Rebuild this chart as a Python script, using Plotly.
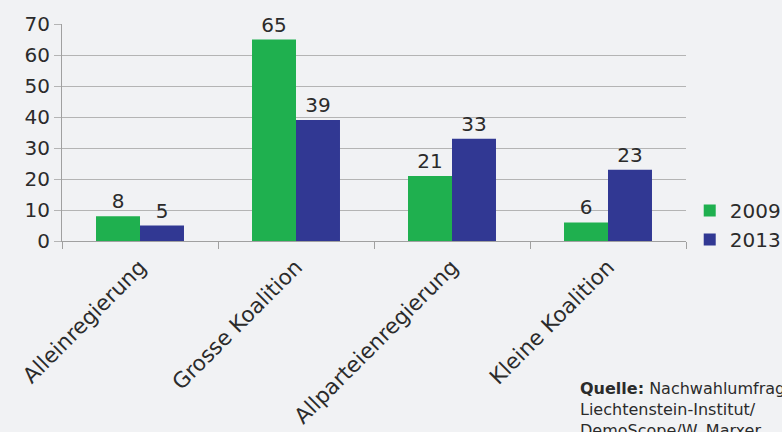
import plotly.graph_objects as go

categories = ["Alleinregierung", "Grosse Koalition", "Allparteienregierung", "Kleine Koalition"]
values_2009 = [8, 65, 21, 6]
values_2013 = [5, 39, 33, 23]
series_names = ["2009", "2013"]
y_ticks = [0, 10, 20, 30, 40, 50, 60, 70]

bg = "#f1f2f4"
font_fam = "DejaVu Sans"
txt_col = "#2b2b2b"

fig = go.Figure()
fig.add_trace(go.Bar(
    x=categories, y=values_2009, name=series_names[0],
    marker=dict(color="#1fb04f", line=dict(width=0)),
    text=[str(v) for v in values_2009], textposition="outside",
    textfont=dict(size=20, color=txt_col, family=font_fam), cliponaxis=False,
))
fig.add_trace(go.Bar(
    x=categories, y=values_2013, name=series_names[1],
    marker=dict(color="#313893", line=dict(width=0)),
    text=[str(v) for v in values_2013], textposition="outside",
    textfont=dict(size=20, color=txt_col, family=font_fam), cliponaxis=False,
))

fig.update_layout(
    width=782, height=432,
    margin=dict(l=62, r=96, t=24, b=191, autoexpand=False),
    paper_bgcolor=bg, plot_bgcolor=bg,
    barmode="group", bargap=0.436, bargroupgap=0,
    font=dict(family=font_fam, size=20, color=txt_col),
    showlegend=True,
    legend=dict(xref="container", yref="container", x=0.882, y=0.558,
                xanchor="left", yanchor="top",
                font=dict(size=20, color=txt_col, family=font_fam),
                bgcolor="rgba(0,0,0,0)", itemwidth=30, tracegroupgap=0),
)
fig.update_yaxes(
    range=[0, 70], tickvals=y_ticks, ticktext=[str(v) for v in y_ticks],
    showgrid=True, gridcolor="#b4b4b4", gridwidth=1,
    showline=True, linecolor="#a0a0a0", linewidth=1,
    ticks="outside", ticklen=7, tickcolor="#b4b4b4",
    tickfont=dict(size=20, color=txt_col), zeroline=False,
)
fig.update_xaxes(
    showline=True, linecolor="#a0a0a0", linewidth=1,
    ticks="outside", ticklen=7, tickcolor="#a0a0a0", tickson="boundaries",
    tickangle=-45, tickfont=dict(size=21.5, color=txt_col),
    ticklabelstandoff=4,
)
fig.add_annotation(
    xref="paper", yref="paper", x=0.827, y=-0.625, xanchor="left", yanchor="top",
    text="<b>Quelle:</b> Nachwahlumfrage<br>Liechtenstein-Institut/<br>DemoScope/W. Marxer",
    showarrow=False, align="left",
    font=dict(size=16, color=txt_col, family=font_fam),
)
fig.write_html("out.html", config={"displayModeBar": False},
               post_script="document.body.style.margin='0';document.body.style.background='#f1f2f4';")
